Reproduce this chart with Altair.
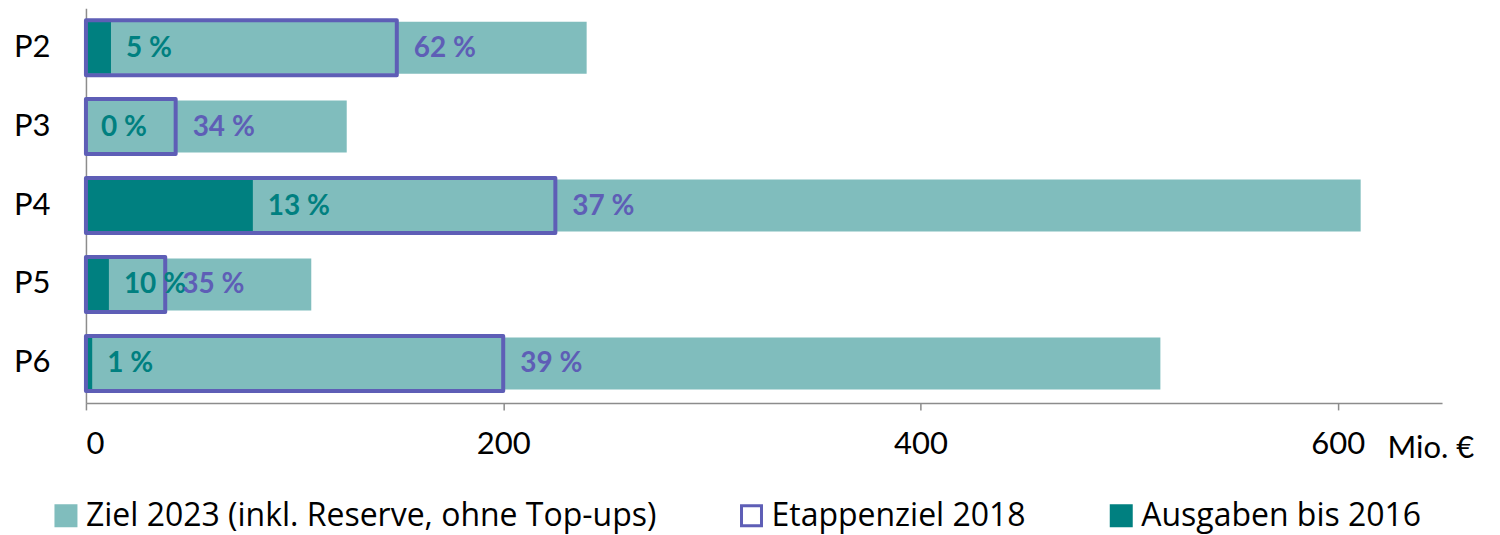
import altair as alt
import pandas as pd

# ---- data ----
programmes = ["P2", "P3", "P4", "P5", "P6"]
ziel_2023 = [240, 125, 611, 108, 515]          # Mio. €
etappenziel_2018 = [149, 43, 225, 38, 200]     # Mio. €
ausgaben_2016 = [12, 0, 80, 11, 3]             # Mio. €
ausgaben_labels = ["5 %", "0 %", "13 %", "10 %", "1 %"]
etappen_labels = ["62 %", "34 %", "37 %", "35 %", "39 %"]
x_ticks = [0, 200, 400, 600]

series_names = [
    "Ziel 2023 (inkl. Reserve, ohne Top-ups)",
    "Etappenziel 2018",
    "Ausgaben bis 2016",
]

ZIEL = "#80BDBD"
PURPLE = "#5E5EB6"
AUS = "#008080"
GRAY = "#8C8C8C"
FONT = "Lato"
LEGEND_FONT = "Open Sans"

rows = []
for i, p in enumerate(programmes):
    rows.append({"prog": p, "series": series_names[0], "value": ziel_2023[i]})
    rows.append({"prog": p, "series": series_names[1], "value": etappenziel_2018[i]})
    rows.append({"prog": p, "series": series_names[2], "value": ausgaben_2016[i]})
long_df = pd.DataFrame(rows)

wide_df = pd.DataFrame({
    "prog": programmes,
    "etappen": etappenziel_2018,
    "ausgaben": ausgaben_2016,
    "aus_lbl": ausgaben_labels,
    "et_lbl": etappen_labels,
})

legend = alt.Legend(
    title=None, orient="none", direction="horizontal",
    legendX=-36, legendY=492,
    symbolType="square", symbolSize=400, symbolStrokeWidth=3,
    labelFont=LEGEND_FONT, labelFontSize=32, labelColor="#000000",
    labelLimit=0, labelOffset=4, columnPadding=79,
)

fill_enc = alt.Fill("series:N", scale=alt.Scale(domain=series_names,
                    range=[ZIEL, "transparent", AUS]), legend=legend)
stroke_enc = alt.Stroke("series:N", scale=alt.Scale(domain=series_names,
                        range=[ZIEL, PURPLE, AUS]), legend=legend)

x_enc = alt.X(
    "value:Q",
    scale=alt.Scale(domain=[0, 650], nice=False),
    axis=alt.Axis(
        values=x_ticks, grid=False, domainColor=GRAY, domainWidth=1.5,
        tickColor=GRAY, tickSize=7, tickWidth=1.5,
        labelFont=FONT, labelFontSize=31, labelColor="#000000", labelPadding=20,
        title="Mio. €", titleFont=FONT, titleFontSize=31, titleFontWeight="normal",
        titleColor="#000000", titleAlign="left", titleBaseline="middle",
        titleX=1302, titleY=46, titleAnchor="start",
    ),
)
y_enc = alt.Y(
    "prog:N", sort=programmes, title=None,
    axis=alt.Axis(
        domainColor=GRAY, domainWidth=1.5, ticks=False,
        labelFont=FONT, labelFontSize=31, labelColor="#000000", labelPadding=36,
    ),
)

base = alt.Chart(long_df)

ziel_bar = base.transform_filter(alt.datum.series == series_names[0]).mark_bar(
    size=52, strokeWidth=0
).encode(x=x_enc, y=y_enc, fill=fill_enc, stroke=stroke_enc)

aus_bar = base.transform_filter(alt.datum.series == series_names[2]).mark_bar(
    size=52, strokeWidth=0
).encode(x=x_enc, y=y_enc, fill=fill_enc, stroke=stroke_enc)

et_bar = base.transform_filter(alt.datum.series == series_names[1]).mark_bar(
    size=55, strokeWidth=4, strokeJoin="round"
).encode(x=x_enc, y=y_enc, fill=fill_enc, stroke=stroke_enc)

aus_text = alt.Chart(wide_df).mark_text(
    align="left", baseline="middle", dx=15, dy=1,
    font=FONT, fontSize=28, fontWeight="bold", color=AUS,
).encode(x=alt.X("ausgaben:Q"), y=alt.Y("prog:N", sort=programmes), text="aus_lbl:N")

et_text = alt.Chart(wide_df).mark_text(
    align="left", baseline="middle", dx=17, dy=1,
    font=FONT, fontSize=28, fontWeight="bold", color=PURPLE,
).encode(x=alt.X("etappen:Q"), y=alt.Y("prog:N", sort=programmes), text="et_lbl:N")

chart = alt.layer(ziel_bar, aus_bar, et_bar, aus_text, et_text).properties(
    width=1357, height=395,
    autosize=alt.AutoSizeParams(type="none"),
    padding={"left": 78, "top": 0, "right": 50, "bottom": 134},
).configure_view(stroke=None)

chart.save("out.html", embed_options={"renderer": "svg", "actions": False})
